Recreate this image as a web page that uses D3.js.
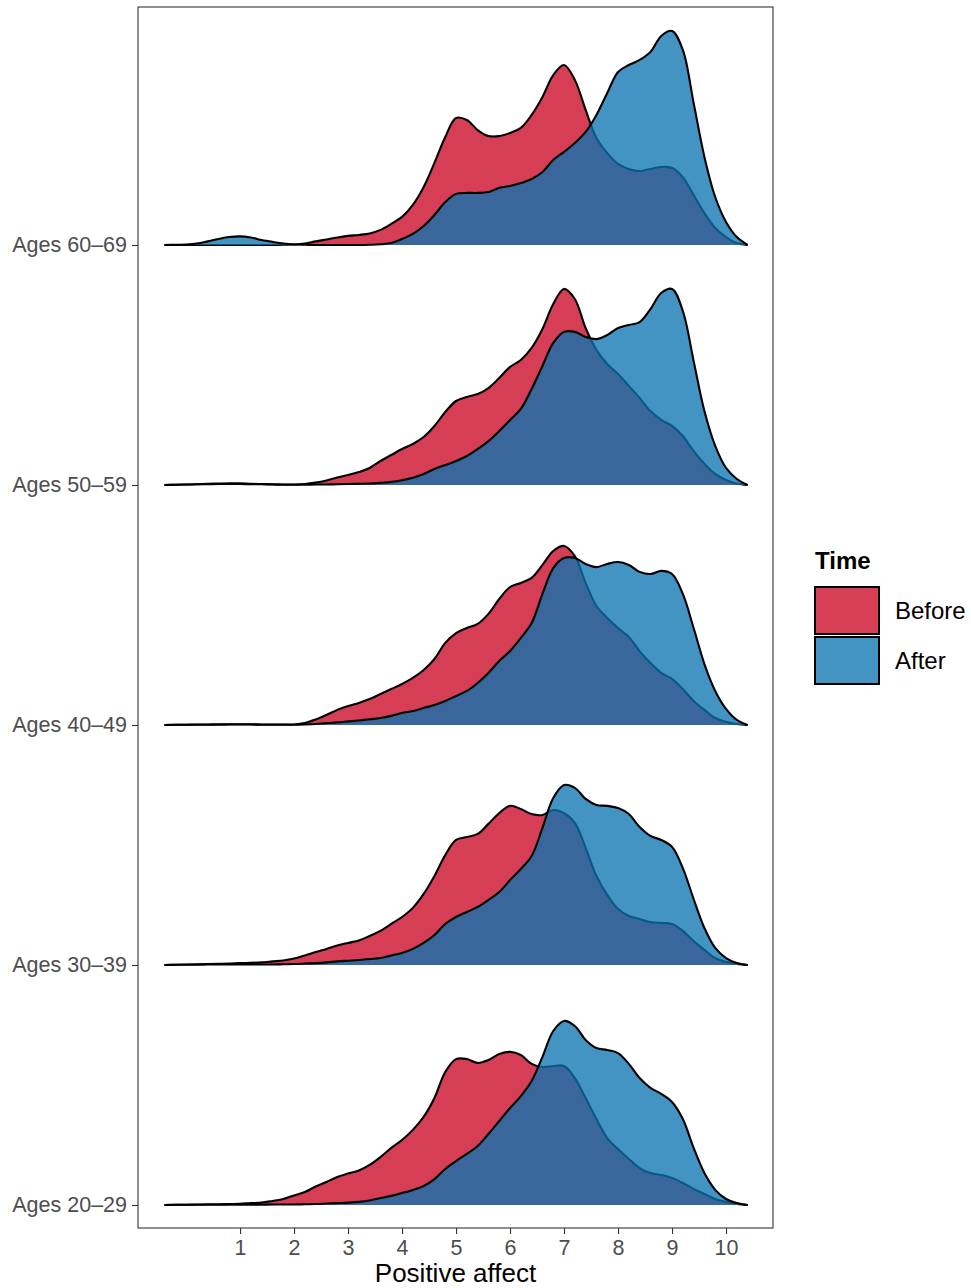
<!DOCTYPE html>
<html>
<head>
<meta charset="utf-8">
<title>Positive affect before and after, by age group</title>
<script src="https://cdnjs.cloudflare.com/ajax/libs/d3/7.8.5/d3.min.js"></script>
<style>
  body { margin: 0; background: #fff; }
  text { font-family: "Liberation Sans", Arial, Helvetica, sans-serif; }
</style>
</head>
<body>
<script>
// categories
const ageGroups = ['Ages 20–29', 'Ages 30–39', 'Ages 40–49', 'Ages 50–59', 'Ages 60–69'];
const times = ['Before', 'After'];
const xTicks = [1, 2, 3, 4, 5, 6, 7, 8, 9, 10];

// points where the densities were read (Positive affect)
const grid = [-0.4, -0.2, 0, 0.2, 0.4, 0.6, 0.8, 1, 1.2, 1.4, 1.6, 1.8, 2, 2.2, 2.4, 2.6, 2.8, 3,
  3.2, 3.4, 3.6, 3.8, 4, 4.2, 4.4, 4.6, 4.8, 5, 5.2, 5.4, 5.6, 5.8, 6, 6.2, 6.4, 6.6, 6.8, 7,
  7.2, 7.4, 7.6, 7.8, 8, 8.2, 8.4, 8.6, 8.8, 9, 9.2, 9.4, 9.6, 9.8, 10, 10.2, 10.4];

// scaled density (1 = distance between two ridges)
const before6069 = [0, 0, 0, 0, 0, 0, 0, 0, 0, 0, 0, 0.001, 0.002, 0.006, 0.015, 0.023, 0.031, 0.038,
  0.042, 0.048, 0.063, 0.088, 0.117, 0.167, 0.242, 0.342, 0.450, 0.529, 0.521, 0.479, 0.454, 0.454, 0.467, 0.488, 0.542, 0.617, 0.708, 0.750,
  0.688, 0.563, 0.446, 0.383, 0.338, 0.317, 0.308, 0.317, 0.325, 0.321, 0.283, 0.208, 0.133, 0.071, 0.033, 0.008, 0];
const after6069 = [0, 0.001, 0.002, 0.006, 0.015, 0.025, 0.033, 0.036, 0.031, 0.021, 0.013, 0.006, 0.002, 0.001, 0, 0, 0, 0,
  0, 0.001, 0.003, 0.008, 0.025, 0.046, 0.079, 0.125, 0.179, 0.213, 0.217, 0.217, 0.221, 0.238, 0.246, 0.258, 0.275, 0.304, 0.354, 0.388,
  0.425, 0.471, 0.542, 0.633, 0.721, 0.750, 0.771, 0.804, 0.871, 0.892, 0.813, 0.592, 0.367, 0.200, 0.096, 0.033, 0];

const before5059 = [0, 0.001, 0.002, 0.003, 0.005, 0.006, 0.007, 0.007, 0.005, 0.004, 0.003, 0.002, 0.002, 0.004, 0.010, 0.019, 0.031, 0.042,
  0.054, 0.071, 0.100, 0.125, 0.150, 0.171, 0.200, 0.246, 0.304, 0.350, 0.367, 0.379, 0.404, 0.446, 0.492, 0.521, 0.571, 0.650, 0.754, 0.817,
  0.775, 0.654, 0.563, 0.504, 0.463, 0.413, 0.363, 0.308, 0.271, 0.246, 0.204, 0.142, 0.088, 0.046, 0.021, 0.006, 0];
const after5059 = [0, 0.001, 0.002, 0.003, 0.003, 0.004, 0.004, 0.004, 0.003, 0.003, 0.002, 0.001, 0.001, 0.001, 0.002, 0.002, 0.003, 0.004,
  0.005, 0.006, 0.009, 0.013, 0.020, 0.030, 0.046, 0.067, 0.083, 0.100, 0.121, 0.150, 0.183, 0.225, 0.271, 0.317, 0.400, 0.496, 0.592, 0.638,
  0.638, 0.617, 0.608, 0.625, 0.654, 0.667, 0.679, 0.733, 0.800, 0.817, 0.725, 0.517, 0.308, 0.163, 0.071, 0.025, 0];

const before4049 = [0, 0.001, 0.001, 0.002, 0.002, 0.003, 0.003, 0.003, 0.003, 0.002, 0.002, 0.002, 0.002, 0.008, 0.023, 0.042, 0.063, 0.079,
  0.092, 0.108, 0.129, 0.150, 0.171, 0.196, 0.229, 0.275, 0.342, 0.383, 0.404, 0.421, 0.463, 0.525, 0.575, 0.592, 0.613, 0.667, 0.725, 0.746,
  0.704, 0.592, 0.496, 0.446, 0.404, 0.367, 0.308, 0.258, 0.217, 0.192, 0.150, 0.100, 0.063, 0.029, 0.013, 0.004, 0];
const after4049 = [0, 0.001, 0.001, 0.001, 0.001, 0.001, 0.002, 0.002, 0.002, 0.001, 0.001, 0.001, 0.001, 0.002, 0.004, 0.008, 0.011, 0.015,
  0.019, 0.024, 0.029, 0.038, 0.050, 0.058, 0.071, 0.083, 0.100, 0.121, 0.142, 0.175, 0.217, 0.267, 0.308, 0.363, 0.425, 0.546, 0.654, 0.696,
  0.696, 0.671, 0.658, 0.671, 0.679, 0.667, 0.638, 0.629, 0.642, 0.629, 0.546, 0.404, 0.254, 0.142, 0.067, 0.021, 0];

const before3039 = [0, 0.001, 0.002, 0.003, 0.004, 0.005, 0.006, 0.008, 0.009, 0.011, 0.015, 0.019, 0.027, 0.040, 0.054, 0.067, 0.081, 0.092,
  0.102, 0.121, 0.142, 0.171, 0.200, 0.238, 0.296, 0.371, 0.458, 0.521, 0.533, 0.546, 0.588, 0.633, 0.663, 0.650, 0.629, 0.625, 0.646, 0.633,
  0.592, 0.488, 0.371, 0.292, 0.233, 0.204, 0.192, 0.179, 0.175, 0.171, 0.142, 0.100, 0.063, 0.029, 0.013, 0.004, 0];
const after3039 = [0, 0.001, 0.001, 0.001, 0.002, 0.002, 0.002, 0.002, 0.002, 0.002, 0.002, 0.003, 0.004, 0.006, 0.008, 0.011, 0.015, 0.018,
  0.021, 0.025, 0.029, 0.040, 0.050, 0.067, 0.092, 0.125, 0.171, 0.200, 0.221, 0.242, 0.271, 0.304, 0.354, 0.400, 0.454, 0.571, 0.696, 0.750,
  0.738, 0.692, 0.667, 0.663, 0.654, 0.629, 0.575, 0.538, 0.521, 0.492, 0.404, 0.275, 0.154, 0.071, 0.029, 0.008, 0];

const before2029 = [0, 0.001, 0.001, 0.002, 0.003, 0.003, 0.004, 0.005, 0.008, 0.010, 0.017, 0.025, 0.040, 0.054, 0.077, 0.096, 0.117, 0.131,
  0.144, 0.167, 0.200, 0.238, 0.271, 0.313, 0.367, 0.446, 0.554, 0.608, 0.608, 0.592, 0.604, 0.629, 0.638, 0.625, 0.588, 0.575, 0.579, 0.579,
  0.529, 0.446, 0.358, 0.279, 0.233, 0.192, 0.154, 0.133, 0.125, 0.113, 0.092, 0.067, 0.046, 0.025, 0.013, 0.004, 0];
const after2029 = [0, 0.001, 0.001, 0.001, 0.001, 0.001, 0.001, 0.001, 0.001, 0.001, 0.002, 0.002, 0.002, 0.003, 0.004, 0.006, 0.008, 0.010,
  0.013, 0.019, 0.029, 0.038, 0.050, 0.063, 0.079, 0.108, 0.150, 0.183, 0.213, 0.246, 0.296, 0.350, 0.404, 0.454, 0.517, 0.617, 0.725, 0.767,
  0.746, 0.688, 0.654, 0.646, 0.633, 0.588, 0.529, 0.488, 0.463, 0.429, 0.358, 0.238, 0.133, 0.063, 0.025, 0.008, 0];

const series = [
  { group: 'Ages 60–69', time: 'Before', values: before6069 },
  { group: 'Ages 60–69', time: 'After', values: after6069 },
  { group: 'Ages 50–59', time: 'Before', values: before5059 },
  { group: 'Ages 50–59', time: 'After', values: after5059 },
  { group: 'Ages 40–49', time: 'Before', values: before4049 },
  { group: 'Ages 40–49', time: 'After', values: after4049 },
  { group: 'Ages 30–39', time: 'Before', values: before3039 },
  { group: 'Ages 30–39', time: 'After', values: after3039 },
  { group: 'Ages 20–29', time: 'Before', values: before2029 },
  { group: 'Ages 20–29', time: 'After', values: after2029 }
];

const width = 971, height = 1288;
const panel = { left: 138, right: 773, top: 7, bottom: 1228 };

const fillColor = d3.scaleOrdinal().domain(times).range(['#c80422', '#0a72b1']);
const fillAlpha = 0.77;

const svg = d3.select('body').append('svg')
  .attr('width', width)
  .attr('height', height);

const x = d3.scaleLinear().domain([-0.89, 10.87]).range([panel.left, panel.right]);
const y = d3.scalePoint().domain(ageGroups).range([1205, 245]);
const ridge = d3.scaleLinear().domain([0, 1]).range([0, y.step()]);

// smooth curve through the read points, never below the baseline
const curve = d3.curveCatmullRom.alpha(0.5);
const ridgeTop = d => -Math.max(0, ridge(d));

const area = d3.area()
  .x((d, i) => x(grid[i]))
  .y0(0)
  .y1(ridgeTop)
  .curve(curve);
const line = d3.line()
  .x((d, i) => x(grid[i]))
  .y(ridgeTop)
  .curve(curve);

// ridges, top row first; Before under After
const ridges = svg.append('g').selectAll('g')
  .data(series)
  .join('g')
    .attr('transform', d => `translate(0,${y(d.group)})`);

ridges.append('path')
  .attr('d', d => area(d.values))
  .attr('fill', d => fillColor(d.time))
  .attr('fill-opacity', fillAlpha);

ridges.append('path')
  .attr('d', d => line(d.values))
  .attr('fill', 'none')
  .attr('stroke', '#000')
  .attr('stroke-width', 2.1)
  .attr('stroke-linejoin', 'round');

// panel border
svg.append('rect')
  .attr('x', panel.left)
  .attr('y', panel.top)
  .attr('width', panel.right - panel.left)
  .attr('height', panel.bottom - panel.top)
  .attr('fill', 'none')
  .attr('stroke', '#333')
  .attr('stroke-width', 1.1);

// axes
const xAxis = svg.append('g')
  .attr('transform', `translate(0,${panel.bottom})`)
  .call(d3.axisBottom(x).tickValues(xTicks).tickSize(6).tickPadding(6));
const yAxis = svg.append('g')
  .attr('transform', `translate(${panel.left},0)`)
  .call(d3.axisLeft(y).tickSize(6).tickPadding(5));

[xAxis, yAxis].forEach(g => {
  g.select('.domain').remove();
  g.selectAll('.tick line').attr('stroke', '#333').attr('stroke-width', 1.1);
  g.selectAll('.tick text')
    .attr('fill', '#4d4d4d')
    .style('font-size', '21.5px')
    .style('font-family', '"Liberation Sans", Arial, sans-serif');
});

svg.append('text')
  .attr('x', (panel.left + panel.right) / 2)
  .attr('y', 1282)
  .attr('text-anchor', 'middle')
  .style('font-size', '26px')
  .text('Positive affect');

// legend
const legend = svg.append('g').attr('transform', 'translate(815,0)');
legend.append('text')
  .attr('x', 0)
  .attr('y', 569)
  .style('font-size', '24px')
  .style('font-weight', 'bold')
  .text('Time');

const keys = legend.selectAll('g.key')
  .data(times)
  .join('g')
    .attr('class', 'key')
    .attr('transform', (d, i) => `translate(0,${587 + i * 50})`);

keys.append('rect')
  .attr('width', 64)
  .attr('height', 47)
  .attr('fill', d => fillColor(d))
  .attr('fill-opacity', fillAlpha)
  .attr('stroke', '#000')
  .attr('stroke-width', 2);

keys.append('text')
  .attr('x', 80)
  .attr('y', 24)
  .attr('dy', '0.35em')
  .style('font-size', '24px')
  .text(d => d);
</script>
</body>
</html>
